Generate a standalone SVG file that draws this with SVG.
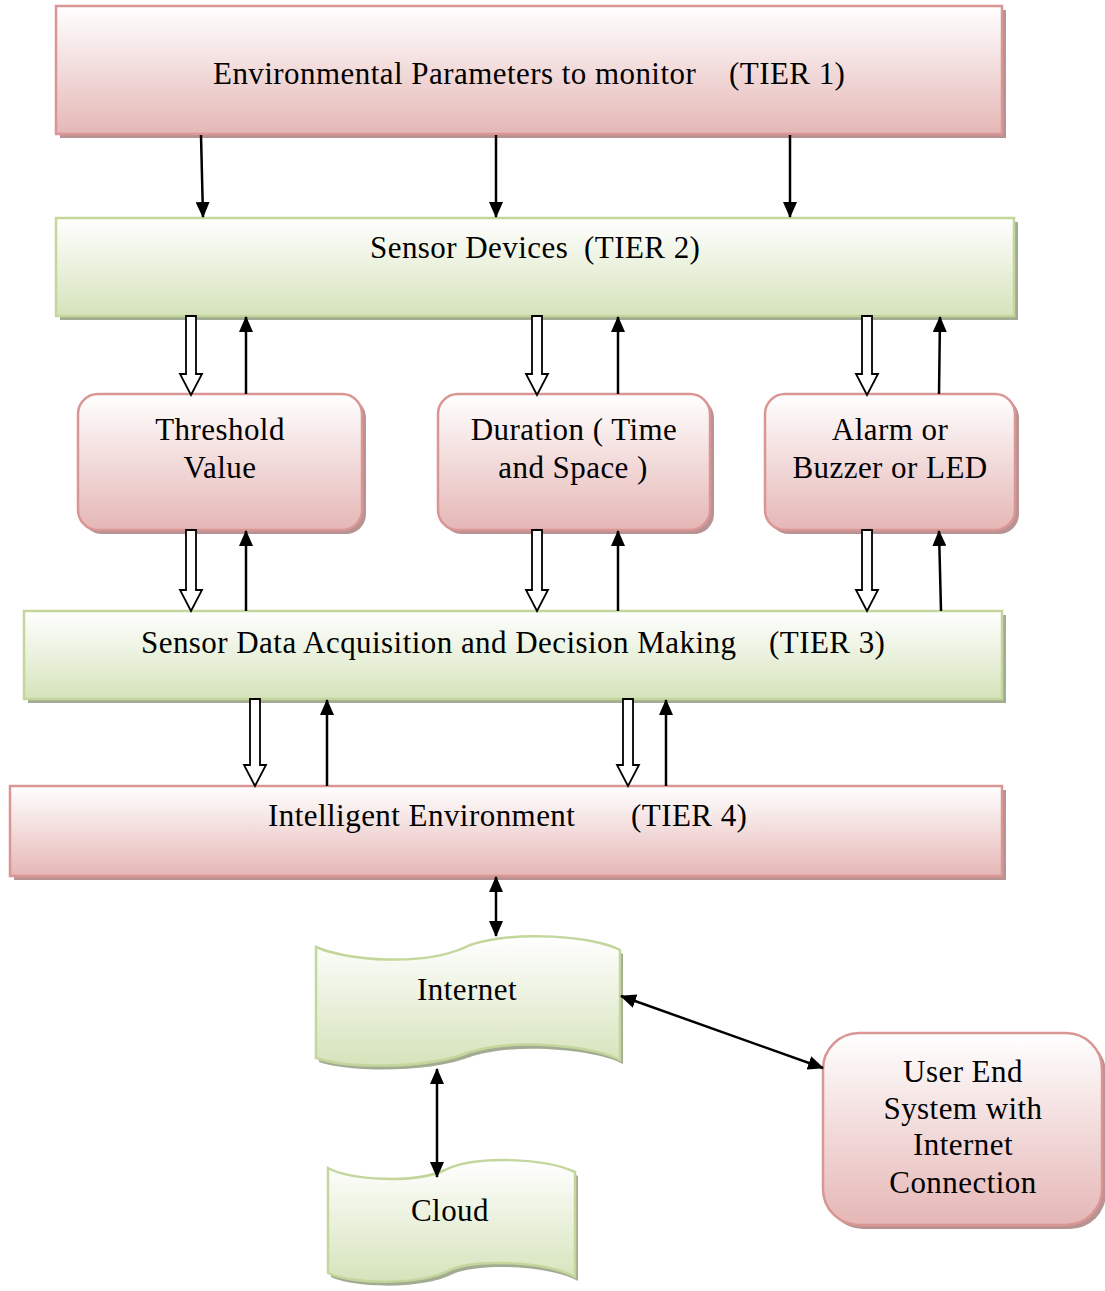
<svg xmlns="http://www.w3.org/2000/svg" width="1105" height="1291" viewBox="0 0 1105 1291">
  <defs>
    <linearGradient id="gPink" x1="0" y1="0" x2="0" y2="1">
      <stop offset="0" stop-color="#ffffff"/>
      <stop offset="1" stop-color="#e5b7b6"/>
    </linearGradient>
    <linearGradient id="gGreen" x1="0" y1="0" x2="0" y2="1">
      <stop offset="0" stop-color="#ffffff"/>
      <stop offset="1" stop-color="#d6e3bb"/>
    </linearGradient>
    <marker id="ah" viewBox="0 0 16 14" refX="15" refY="7" markerWidth="16" markerHeight="14" markerUnits="userSpaceOnUse" orient="auto-start-reverse">
      <path d="M0,0 L16,7 L0,14 Z" fill="#000"/>
    </marker>
    <style>
      .pink { fill: url(#gPink); stroke: #d99694; stroke-width: 2.5; }
      .green { fill: url(#gGreen); stroke: #c3d69b; stroke-width: 2.5; }
      .shP { fill: #b89393; }
      .shG { fill: #a3ab92; }
      .t { font-family: "Liberation Serif", "Times New Roman", serif; font-size: 31px; letter-spacing: 0.45px; fill: #000; }
      .c { text-anchor: middle; }
      .ln { stroke: #000; stroke-width: 2.5; fill: none; marker-end: url(#ah); }
      .dbl { stroke: #000; stroke-width: 2.5; fill: none; marker-start: url(#ah); marker-end: url(#ah); }
      .hol { fill: #fff; stroke: #000; stroke-width: 1.8; }
    </style>
  </defs>

  <!-- Tier 1 -->
  <g id="tier1">
    <rect class="shP" x="60" y="10" width="946" height="128"/>
    <rect class="pink" x="56" y="6" width="946" height="128"/>
    <text class="t" x="213" y="84">Environmental Parameters to monitor</text>
    <text class="t" x="729" y="84">(TIER 1)</text>
  </g>

  <!-- Tier 2 -->
  <g id="tier2">
    <rect class="shG" x="60" y="222" width="958" height="98"/>
    <rect class="green" x="56" y="218" width="958" height="98"/>
    <text class="t" x="370" y="258">Sensor Devices</text>
    <text class="t" x="584" y="258">(TIER 2)</text>
  </g>

  <!-- Threshold Value -->
  <g id="threshold">
    <rect class="shP" x="82" y="398" width="284" height="136" rx="20"/>
    <rect class="pink" x="78" y="394" width="284" height="136" rx="20"/>
    <text class="t c" x="220" y="440">Threshold</text>
    <text class="t c" x="220" y="478">Value</text>
  </g>

  <!-- Duration -->
  <g id="duration">
    <rect class="shP" x="442" y="398" width="272" height="136" rx="20"/>
    <rect class="pink" x="438" y="394" width="272" height="136" rx="20"/>
    <text class="t c" x="574" y="440">Duration ( Time</text>
    <text class="t c" x="573" y="478">and Space )</text>
  </g>

  <!-- Alarm -->
  <g id="alarm">
    <rect class="shP" x="769" y="398" width="250" height="136" rx="20"/>
    <rect class="pink" x="765" y="394" width="250" height="136" rx="20"/>
    <text class="t c" x="890" y="440">Alarm or</text>
    <text class="t c" x="890" y="478">Buzzer or LED</text>
  </g>

  <!-- Tier 3 -->
  <g id="tier3">
    <rect class="shG" x="28" y="615" width="978" height="88"/>
    <rect class="green" x="24" y="611" width="978" height="88"/>
    <text class="t" x="141" y="653">Sensor Data Acquisition and Decision Making</text>
    <text class="t" x="769" y="653">(TIER 3)</text>
  </g>

  <!-- Tier 4 -->
  <g id="tier4">
    <rect class="shP" x="14" y="790" width="992" height="90"/>
    <rect class="pink" x="10" y="786" width="992" height="90"/>
    <text class="t" x="268" y="826">Intelligent Environment</text>
    <text class="t" x="631" y="826">(TIER 4)</text>
  </g>

  <!-- Internet -->
  <g id="internet">
    <path class="shG" transform="translate(3,4)" d="M316,947 C345,960 425,968 470,945 C515,930 595,936 620,950 L620,1060 C595,1046 515,1038 470,1052 C425,1070 345,1068 316,1058 Z"/>
    <path class="green" d="M316,947 C345,960 425,968 470,945 C515,930 595,936 620,950 L620,1060 C595,1046 515,1038 470,1052 C425,1070 345,1068 316,1058 Z"/>
    <text class="t c" x="467" y="1000">Internet</text>
  </g>

  <!-- Cloud -->
  <g id="cloud">
    <path class="shG" transform="translate(3,4)" d="M328,1168 C350,1180 415,1184 445,1170 C475,1155 545,1158 575,1172 L575,1277 C548,1262 478,1258 450,1270 C420,1286 350,1284 328,1273 Z"/>
    <path class="green" d="M328,1168 C350,1180 415,1184 445,1170 C475,1155 545,1158 575,1172 L575,1277 C548,1262 478,1258 450,1270 C420,1286 350,1284 328,1273 Z"/>
    <text class="t c" x="450" y="1221">Cloud</text>
  </g>

  <!-- User End System -->
  <g id="userend">
    <rect class="shP" x="827" y="1037" width="279" height="192" rx="36"/>
    <rect class="pink" x="823" y="1033" width="279" height="192" rx="36"/>
    <text class="t c" x="963" y="1082">User End</text>
    <text class="t c" x="963" y="1119">System with</text>
    <text class="t c" x="963" y="1155">Internet</text>
    <text class="t c" x="963" y="1193">Connection</text>
  </g>

  <!-- Connectors -->
  <g id="connectors">
    <!-- Tier 1 to Tier 2 -->
    <line class="ln" x1="201" y1="135" x2="203" y2="217"/>
    <line class="ln" x1="496" y1="135" x2="496" y2="217"/>
    <line class="ln" x1="790" y1="135" x2="790" y2="217"/>

    <!-- Tier 2 down to middle boxes (hollow) -->
    <path class="hol" d="M186,316 L196,316 L196,374 L202,374 L191,395 L180,374 L186,374 Z"/>
    <path class="hol" d="M532,316 L542,316 L542,374 L548,374 L537,395 L526,374 L532,374 Z"/>
    <path class="hol" d="M862,316 L872,316 L872,374 L878,374 L867,395 L856,374 L862,374 Z"/>
    <!-- middle boxes up to Tier 2 -->
    <line class="ln" x1="246" y1="394" x2="246" y2="317"/>
    <line class="ln" x1="618" y1="394" x2="618" y2="317"/>
    <line class="ln" x1="939" y1="394" x2="940" y2="317"/>

    <!-- middle boxes down to Tier 3 (hollow) -->
    <path class="hol" d="M186,530 L196,530 L196,590 L202,590 L191,611 L180,590 L186,590 Z"/>
    <path class="hol" d="M532,530 L542,530 L542,590 L548,590 L537,611 L526,590 L532,590 Z"/>
    <path class="hol" d="M862,530 L872,530 L872,590 L878,590 L867,611 L856,590 L862,590 Z"/>
    <!-- Tier 3 up to middle boxes -->
    <line class="ln" x1="246" y1="611" x2="246" y2="531"/>
    <line class="ln" x1="618" y1="611" x2="618" y2="531"/>
    <line class="ln" x1="941" y1="611" x2="939" y2="531"/>

    <!-- Tier 3 down to Tier 4 (hollow) -->
    <path class="hol" d="M250,699 L260,699 L260,765 L266,765 L255,786 L244,765 L250,765 Z"/>
    <path class="hol" d="M623,699 L633,699 L633,765 L639,765 L628,786 L617,765 L623,765 Z"/>
    <!-- Tier 4 up to Tier 3 -->
    <line class="ln" x1="327" y1="786" x2="327" y2="700"/>
    <line class="ln" x1="666" y1="786" x2="666" y2="700"/>

    <!-- Tier 4 / Internet -->
    <line class="dbl" x1="496" y1="877" x2="496" y2="936"/>
    <!-- Internet / Cloud -->
    <line class="dbl" x1="437" y1="1069" x2="437" y2="1177"/>
    <!-- Internet / User End -->
    <line class="dbl" x1="621" y1="996" x2="823" y2="1068"/>
  </g>
</svg>
